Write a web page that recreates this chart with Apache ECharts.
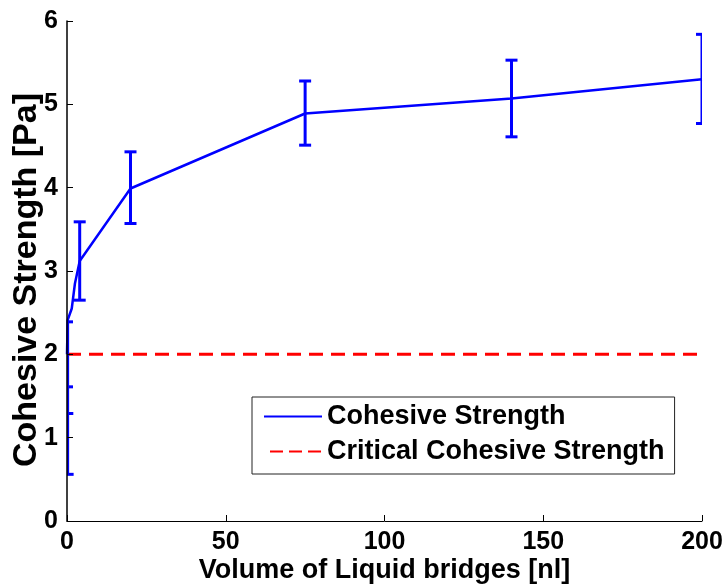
<!DOCTYPE html>
<html>
<head>
<meta charset="utf-8">
<script src="https://cdn.jsdelivr.net/npm/echarts@6/dist/echarts.min.js"></script>
<style>
  html, body { margin: 0; padding: 0; background: #fff; }
  #chart { width: 724px; height: 585px; }
</style>
</head>
<body>
<div id="chart"></div>
<script>
// Measured cohesive strength against liquid bridge volume, with error bars
const volume   = [0, 0.1, 0.2, 1.5, 2.5, 4, 20, 75, 140, 200];
const strength = [2.00, 2.20, 2.41, 2.55, 2.85, 3.12, 3.99, 4.89, 5.07, 5.30];
const errLow   = [1.61, 1.29, 0.56, 2.55, 2.85, 2.65, 3.57, 4.51, 4.61, 4.77];
const errHigh  = [2.39, 2.20, 2.41, 2.55, 2.85, 3.59, 4.43, 5.28, 5.53, 5.84];

// Critical cohesive strength threshold
const criticalX = [0, 200];
const critical  = [2, 2];

const xTicks = [0, 50, 100, 150, 200];
const yTicks = [0, 1, 2, 3, 4, 5, 6];

const FONT = '"Liberation Sans", Arial, sans-serif';
const BLUE = '#0000ff';
const RED = '#ff0000';

const linePts = volume.map((v, i) => [v, strength[i]]);
const errPts = volume.map((v, i) => [v, errLow[i], errHigh[i], strength[i]]);
const critPts = criticalX.map((v, i) => [v, critical[i]]);

function renderErrorBar(params, api) {
  const x = api.value(0), lo = api.value(1), hi = api.value(2), y = api.value(3);
  const pLo = api.coord([x, lo]);
  const pHi = api.coord([x, hi]);
  const half = 6;
  const style = { stroke: BLUE, lineWidth: 3, fill: null };
  const children = [];
  if (hi > lo) {
    children.push({ type: 'line', shape: { x1: pLo[0], y1: pLo[1], x2: pHi[0], y2: pHi[1] }, style });
  }
  if (lo < y) {
    children.push({ type: 'line', shape: { x1: pLo[0] - half, y1: pLo[1], x2: pLo[0] + half, y2: pLo[1] }, style });
  }
  if (hi > y) {
    children.push({ type: 'line', shape: { x1: pHi[0] - half, y1: pHi[1], x2: pHi[0] + half, y2: pHi[1] }, style });
  }
  return { type: 'group', children };
}

const chart = echarts.init(document.getElementById('chart'), null, { renderer: 'canvas' });

chart.setOption({
  backgroundColor: '#fff',
  animation: false,
  grid: {
    left: 67, right: 22, top: 21, bottom: 64,
    containLabel: false,
    outerBoundsMode: 'none'
  },
  legend: {
    data: [
      { name: 'Cohesive Strength' },
      { name: 'Critical Cohesive Strength', lineStyle: { type: [0, 6, 13, 6, 13, 6, 13, 6] } }
    ],
    orient: 'vertical',
    left: 252,
    top: 397,
    padding: [6, 10, 9, 11],
    itemGap: 8,
    itemWidth: 58,
    itemHeight: 14,
    itemStyle: { opacity: 0 },
    borderColor: '#222',
    borderWidth: 1,
    backgroundColor: '#fff',
    textStyle: { fontFamily: FONT, fontWeight: 'bold', fontSize: 27, color: '#000' }
  },
  xAxis: {
    type: 'value',
    min: xTicks[0],
    max: xTicks[xTicks.length - 1],
    interval: 50,
    name: 'Volume of Liquid bridges [nl]',
    nameLocation: 'middle',
    nameGap: 36,
    nameMoveOverlap: false,
    nameTextStyle: { fontFamily: FONT, fontWeight: 'bold', fontSize: 27, color: '#000' },
    axisLine: { show: true, lineStyle: { color: '#000', width: 1 } },
    axisTick: { show: true, inside: true, length: 6, lineStyle: { color: '#000' } },
    axisLabel: { margin: 9, fontFamily: FONT, fontWeight: 'bold', fontSize: 25, color: '#000' },
    splitLine: { show: false },
    z: 10
  },
  yAxis: {
    type: 'value',
    min: yTicks[0],
    max: yTicks[yTicks.length - 1],
    interval: 1,
    name: 'Cohesive Strength [Pa]',
    nameLocation: 'middle',
    nameGap: 31,
    nameMoveOverlap: false,
    nameTextStyle: {
      fontFamily: FONT, fontWeight: 'bold', fontSize: 34, color: '#000',
      padding: [0, 18, -8, 0]
    },
    axisLine: { show: true, lineStyle: { color: '#000', width: 1.5 } },
    axisTick: { show: true, inside: true, length: 6, lineStyle: { color: '#000', width: 1 } },
    axisLabel: { margin: 9, fontFamily: FONT, fontWeight: 'bold', fontSize: 25, color: '#000' },
    splitLine: { show: false },
    z: 10
  },
  series: [
    {
      name: 'Cohesive Strength',
      type: 'line',
      data: linePts,
      symbol: 'none',
      lineStyle: { color: BLUE, width: 2.5 },
      itemStyle: { color: BLUE },
      z: 3
    },
    {
      name: 'Cohesive Strength error',
      type: 'custom',
      data: errPts,
      renderItem: renderErrorBar,
      clip: true,
      encode: { x: 0, y: [1, 2] },
      z: 3
    },
    {
      name: 'Critical Cohesive Strength',
      type: 'line',
      data: critPts,
      symbol: 'none',
      lineStyle: { color: RED, width: 3, type: [14, 8] },
      itemStyle: { color: RED },
      z: 2
    }
  ]
});
</script>
</body>
</html>
